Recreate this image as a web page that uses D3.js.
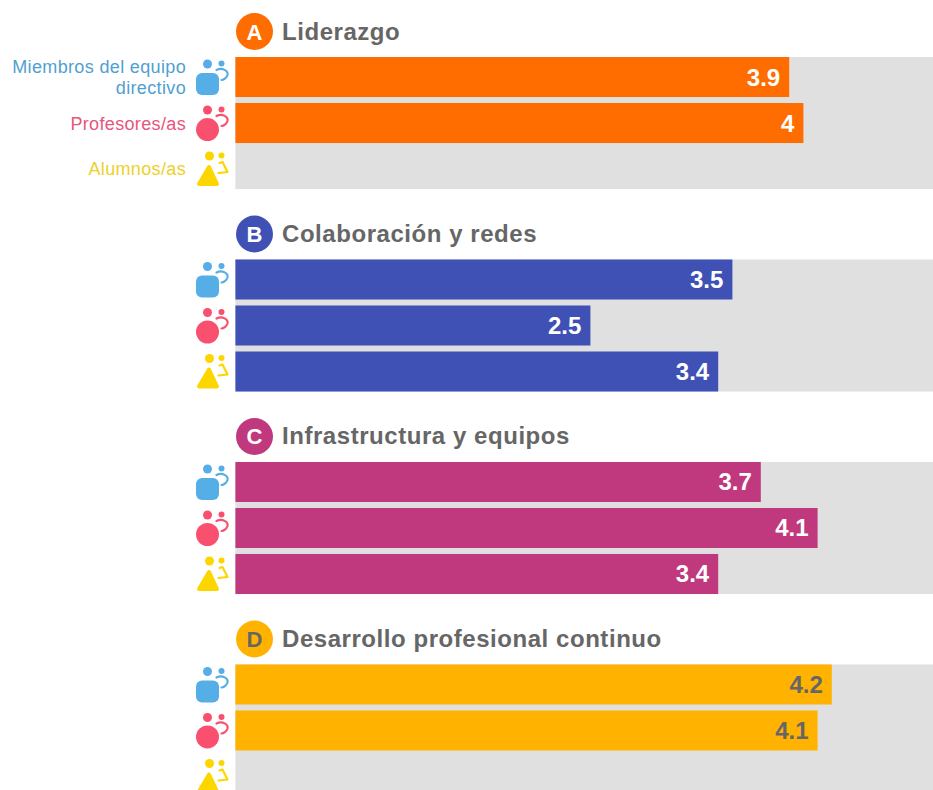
<!DOCTYPE html>
<html>
<head>
<meta charset="utf-8">
<script src="https://cdn.jsdelivr.net/npm/d3@7"></script>
<style>
  html, body { margin: 0; padding: 0; background: #fff; overflow: hidden; }
  svg { display: block; }
  text { font-family: "Liberation Sans", Arial, sans-serif; }
</style>
</head>
<body>
<div id="bars"></div>
<script>
const letters = ["A", "B", "C", "D"];
const titles = ["Liderazgo", "Colaboración y redes", "Infrastructura y equipos", "Desarrollo profesional continuo"];
const groupColors = ["#ff6d00", "#3f51b5", "#c0397f", "#ffb300"];
const labelColors = ["#fff", "#fff", "#fff", "#666"];

const roles = ["directivo", "profesor", "alumno"];
const roleColors = ["#56aee6", "#f9506f", "#fdd600"];
const legendColors = ["#4f9fd2", "#e8557c", "#ecd12a"];

// null = no data for that group
const directivoValues = [3.9, 3.5, 3.7, 4.2];
const profesorValues = [4, 2.5, 4.1, 4.1];
const alumnoValues = [null, 3.4, 3.4, null];

const width = 933;
const height = 790;

const svg = d3.select("#bars")
  .append("svg")
  .attr("width", width)
  .attr("height", height)
  .attr("viewBox", [0, 0, width, height]);

// Scales
const xScale = d3.scaleLinear().domain([0, 5]).range([235.4, 945.4]);
const groupScale = d3.scaleBand().domain(letters).range([57, 796.5]).paddingInner(0.348).paddingOuter(0);
const rowScale = d3.scaleBand().domain(roles).range([0, groupScale.bandwidth()]).paddingInner(0.13);

const roleValues = [directivoValues, profesorValues, alumnoValues];

// Little people icons, drawn around the (0, 0) middle of each row
const drawIcon = (g, role, color) => {
  if (role === "directivo") {
    g.append("rect").attr("x", -11.5).attr("y", -4).attr("width", 23).attr("height", 22).attr("rx", 6).attr("fill", color);
  } else if (role === "profesor") {
    g.append("circle").attr("cy", 6.5).attr("r", 11.5).attr("fill", color);
  } else {
    g.append("path").attr("d", "M1.5,-2 L9.5,15 L-8.5,15 Z").attr("fill", color).attr("stroke", color).attr("stroke-width", 4).attr("stroke-linejoin", "round");
  }
  const headX = role === "alumno" ? 2 : 0;
  g.append("circle").attr("cx", headX).attr("cy", -13).attr("r", 4.5).attr("fill", color);
  g.append("circle").attr("cx", 14).attr("cy", -13.5).attr("r", 3).attr("fill", color);
  const arm = role === "alumno"
    ? "M12,-6 L15,-7 L20,3 L11,4"
    : "M9,-7 C15,-10 21,-6 20,-2 C19,1 16,3 14,3";
  g.append("path").attr("d", arm).attr("fill", "none").attr("stroke", color).attr("stroke-width", 2.2).attr("stroke-linecap", "round").attr("stroke-linejoin", "round");
};

letters.forEach((letter, i) => {
  const top = groupScale(letter);
  const group = svg.append("g").attr("transform", `translate(0, ${top})`);

  // Grey track
  group.append("rect")
    .attr("x", xScale(0))
    .attr("y", 0)
    .attr("width", xScale(5) - xScale(0))
    .attr("height", groupScale.bandwidth())
    .attr("fill", "#e0e0e0");

  // Header
  group.append("circle").attr("cx", 254.5).attr("cy", -25.5).attr("r", 18.5).attr("fill", groupColors[i]);
  group.append("text")
    .attr("x", 254.5).attr("y", -17.5)
    .attr("text-anchor", "middle")
    .attr("font-size", 22).attr("font-weight", "bold")
    .attr("fill", letter === "D" ? "#666" : "#fff")
    .text(letter);
  group.append("text")
    .attr("x", 282).attr("y", -17.5)
    .attr("font-size", 24).attr("font-weight", "bold")
    .attr("letter-spacing", 0.55)
    .attr("fill", "#666")
    .text(titles[i]);

  roles.forEach((role, r) => {
    const y = rowScale(role);
    const mid = y + rowScale.bandwidth() / 2;
    const value = roleValues[r][i];

    drawIcon(group.append("g").attr("transform", `translate(207.5, ${mid})`), role, roleColors[r]);

    if (value === null) return;

    group.append("rect")
      .attr("x", xScale(0))
      .attr("y", y)
      .attr("width", xScale(value) - xScale(0))
      .attr("height", rowScale.bandwidth())
      .attr("fill", groupColors[i]);

    group.append("text")
      .attr("x", xScale(value) - 9)
      .attr("y", mid + 8.5)
      .attr("text-anchor", "end")
      .attr("font-size", 24).attr("font-weight", "bold")
      .attr("fill", labelColors[i])
      .text(value);
  });
});

// Legend labels, only beside the first group
const legend = svg.append("g").attr("font-size", 18).attr("letter-spacing", 0.35).attr("text-anchor", "end");
legend.append("text").attr("x", 186).attr("y", 73).attr("fill", legendColors[0]).text("Miembros del equipo");
legend.append("text").attr("x", 186).attr("y", 94).attr("fill", legendColors[0]).text("directivo");
legend.append("text").attr("x", 186).attr("y", 130).attr("fill", legendColors[1]).text("Profesores/as");
legend.append("text").attr("x", 186).attr("y", 175).attr("fill", legendColors[2]).text("Alumnos/as");
</script>
</body>
</html>
